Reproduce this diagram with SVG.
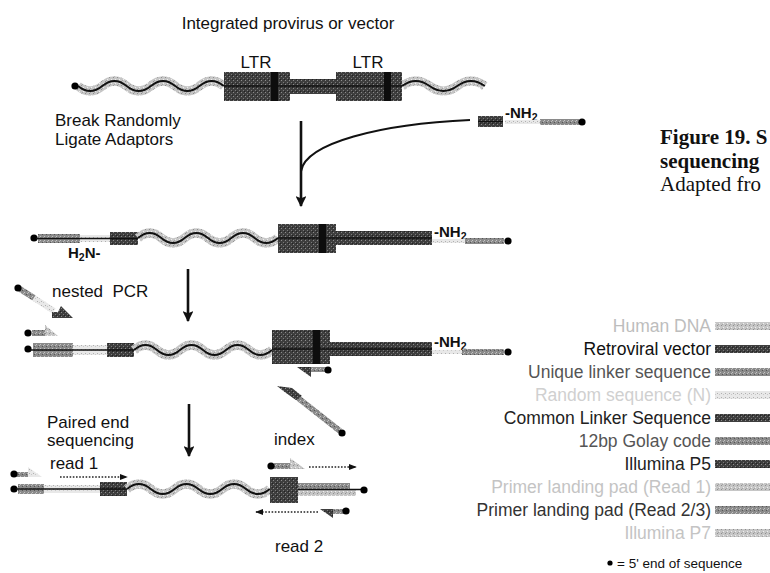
<svg xmlns="http://www.w3.org/2000/svg" width="770" height="573" viewBox="0 0 770 573">
<defs>
<pattern id="pDark" width="4" height="4" patternUnits="userSpaceOnUse"><rect width="4" height="4" fill="#3e3e3e"/><rect x="1" y="0" width="1" height="1" fill="#8c8c8c"/><rect x="3" y="2" width="1" height="1" fill="#7a7a7a"/><rect x="0" y="3" width="1" height="1" fill="#222"/></pattern>
<pattern id="pMed" width="4" height="4" patternUnits="userSpaceOnUse"><rect width="4" height="4" fill="#8a8a8a"/><rect x="0" y="0" width="1" height="1" fill="#c4c4c4"/><rect x="2" y="2" width="1" height="1" fill="#555"/><rect x="3" y="1" width="1" height="1" fill="#bbb"/></pattern>
<pattern id="pLight" width="4" height="4" patternUnits="userSpaceOnUse"><rect width="4" height="4" fill="#c6c6c6"/><rect x="1" y="1" width="1" height="1" fill="#8f8f8f"/><rect x="3" y="3" width="1" height="1" fill="#eee"/><rect x="2" y="0" width="1" height="1" fill="#a5a5a5"/></pattern>
<pattern id="pVLight" width="4" height="4" patternUnits="userSpaceOnUse"><rect width="4" height="4" fill="#e8e8e8"/><rect x="1" y="1" width="1" height="1" fill="#b0b0b0"/><rect x="3" y="2" width="1" height="1" fill="#c8c8c8"/></pattern>
<marker id="ah" viewBox="0 0 10 10" refX="9" refY="5" markerWidth="4.2" markerHeight="4.2" orient="auto"><path d="M0,0 L10,5 L0,10 L2,5 z" fill="#111"/></marker>
<marker id="ahs" viewBox="0 0 10 10" refX="9" refY="5" markerWidth="5" markerHeight="5" orient="auto"><path d="M0,1 L10,5 L0,9 z" fill="#111"/></marker>
</defs>
<style>
text{font-family:"Liberation Sans",Arial,sans-serif;fill:#111}
.lbl{font-size:17px}
.nh{font-size:15px;font-weight:bold}
.lg{font-size:17.5px;text-anchor:end}
.cap{font-family:"Liberation Serif","Times New Roman",serif;font-size:21px}
.band{fill:none;stroke:url(#pLight);stroke-width:9}
.wire{fill:none;stroke:#111;stroke-width:1.8}
.line{stroke:#111;stroke-width:1.4}
.dk{fill:url(#pDark)}
.md{fill:url(#pMed)}
.lt{fill:url(#pLight)}
.vl{fill:url(#pVLight)}
.bar{fill:#0d0d0d}
.dot{fill:#000}
.arr{stroke:#111;stroke-width:2.6;fill:none}
.dash{stroke:#222;stroke-width:1.6;stroke-dasharray:1.6 1.6;fill:none}
</style>

<g id="title">
<text class="lbl" x="288" y="29" text-anchor="middle" font-size="17.5">Integrated provirus or vector</text>
<text class="lbl" x="256" y="68" text-anchor="middle">LTR</text>
<text class="lbl" x="368" y="68" text-anchor="middle">LTR</text>
</g>

<g id="row1">
<path class="band" d="M78,86 q12.15,10 24.3,0 t24.3,0 t24.3,0 t24.3,0 t24.3,0 t24.3,0"/>
<path class="wire" d="M78,86 q12.15,10 24.3,0 t24.3,0 t24.3,0 t24.3,0 t24.3,0 t24.3,0"/>
<path class="band" d="M402,86 q13.8,-10 27.6,0 t27.6,0 t27.6,0"/>
<path class="wire" d="M402,86 q13.8,-10 27.6,0 t27.6,0 t27.6,0"/>
<rect class="dk" x="224" y="72" width="66" height="29"/>
<rect class="dk" x="290" y="79" width="46" height="15"/>
<rect class="dk" x="336" y="72" width="66" height="29"/>
<line class="line" x1="224" y1="86" x2="402" y2="86"/>
<rect class="bar" x="271" y="72" width="7" height="29"/>
<rect class="bar" x="384" y="72" width="7" height="29"/>
<circle class="dot" cx="75" cy="86" r="3.6"/>
</g>

<g id="step1">
<text class="lbl" x="55" y="126" font-size="18.5">Break Randomly</text>
<text class="lbl" x="55" y="145" font-size="18.5">Ligate Adaptors</text>
</g>

<g id="adaptor">
<rect class="dk" x="478" y="116" width="25" height="11"/>
<line class="line" x1="478" y1="121.5" x2="503" y2="121.5"/>
<text class="nh" x="505" y="118">-NH<tspan font-size="10.5" dy="3">2</tspan></text>
<rect class="vl" x="505" y="120" width="35" height="4"/>
<rect class="md" x="540" y="119" width="39" height="6"/>
<circle class="dot" cx="582" cy="122" r="3.6"/>
</g>

<g id="caption">
<text class="cap" x="660" y="144" font-weight="bold">Figure 19. S</text>
<text class="cap" x="660" y="168" font-weight="bold">sequencing</text>
<text class="cap" x="660" y="191">Adapted fro</text>
</g>

<g id="row2">
<circle class="dot" cx="34" cy="238" r="3.6"/>
<rect class="md" x="38" y="234" width="42" height="9"/>
<rect class="vl" x="80" y="235" width="30" height="7"/>
<rect class="dk" x="110" y="232" width="28" height="13"/>
<line class="line" x1="36" y1="238.5" x2="138" y2="238.5"/>
<path class="band" d="M138,238 q11.67,-10 23.33,0 t23.33,0 t23.33,0 t23.33,0 t23.33,0 t23.33,0"/>
<path class="wire" d="M138,238 q11.67,-10 23.33,0 t23.33,0 t23.33,0 t23.33,0 t23.33,0 t23.33,0"/>
<rect class="dk" x="278" y="224" width="58" height="29"/>
<rect class="dk" x="336" y="231" width="96" height="14"/>
<line class="line" x1="278" y1="238" x2="432" y2="238"/>
<rect class="bar" x="319" y="224" width="7" height="29"/>
<text class="nh" x="434" y="237">-NH<tspan font-size="10.5" dy="3">2</tspan></text>
<rect class="vl" x="432" y="239" width="33" height="4"/>
<rect class="md" x="465" y="238" width="39" height="6"/>
<circle class="dot" cx="508" cy="241" r="3.6"/>
<text class="nh" x="68" y="258">H<tspan font-size="10.5" dy="3">2</tspan><tspan dy="-3">N-</tspan></text>
</g>

<g id="step2">
<text class="lbl" x="52" y="297" style="white-space:pre">nested  PCR</text>
</g>

<g id="primer-diag">
<line x1="20" y1="289" x2="34" y2="298" stroke="url(#pMed)" stroke-width="6"/>
<line x1="34" y1="298" x2="54" y2="311" stroke="url(#pVLight)" stroke-width="6"/>
<polygon class="dk" points="52,312 58,312 61,306 73,318 52,318"/>
<circle class="dot" cx="18" cy="288" r="3.6"/>
</g>

<g id="primer-r3">
<rect class="md" x="32" y="330" width="13" height="6"/>
<polygon class="lt" points="45,325 58,336 45,336"/>
<circle class="dot" cx="28" cy="333" r="3.6"/>
</g>

<g id="row3">
<circle class="dot" cx="28" cy="349" r="3.6"/>
<rect class="md" x="33" y="343" width="40" height="14"/>
<rect class="vl" x="73" y="345" width="34" height="10"/>
<rect class="dk" x="107" y="343" width="27" height="14"/>
<line class="line" x1="30" y1="350" x2="134" y2="350"/>
<path class="band" d="M134,350 q11.5,-10 23,0 t23,0 t23,0 t23,0 t23,0 t23,0"/>
<path class="wire" d="M134,350 q11.5,-10 23,0 t23,0 t23,0 t23,0 t23,0 t23,0"/>
<rect class="dk" x="272" y="330" width="58" height="34"/>
<rect class="dk" x="330" y="342" width="102" height="14"/>
<line class="line" x1="272" y1="349" x2="432" y2="349"/>
<rect class="bar" x="313" y="330" width="7" height="34"/>
<text class="nh" x="434" y="347">-NH<tspan font-size="10.5" dy="3">2</tspan></text>
<rect class="vl" x="432" y="350" width="30" height="4"/>
<rect class="md" x="462" y="349" width="42" height="6"/>
<circle class="dot" cx="508" cy="352" r="3.6"/>
</g>

<g id="primer-idx-under">
<polygon class="dk" points="297,367 311,367 311,377"/>
<rect class="md" x="311" y="367" width="15" height="5"/>
<circle class="dot" cx="328" cy="370" r="3.6"/>
</g>

<g id="primer-idx-diag">
<line x1="293" y1="394" x2="340" y2="431" stroke="url(#pMed)" stroke-width="6"/>
<polygon class="dk" points="277,386 292,388 302,396 296,400 286,393"/>
<circle class="dot" cx="342" cy="433" r="3.6"/>
</g>

<g id="step3">
<text class="lbl" x="47" y="428">Paired end</text>
<text class="lbl" x="47" y="446">sequencing</text>
<text class="lbl" x="274" y="445">index</text>
<text class="lbl" x="50" y="469">read 1</text>
<text class="lbl" x="275" y="552">read 2</text>
</g>

<g id="primer-read1">
<rect class="md" x="17" y="472" width="11" height="5"/>
<polygon class="vl" points="28,467 42,477 28,477"/>
<circle class="dot" cx="14" cy="474" r="3.6"/>
<line class="dash" x1="60" y1="477" x2="127" y2="477" marker-end="url(#ahs)"/>
</g>

<g id="primer-index">
<rect class="md" x="274" y="463" width="16" height="6"/>
<polygon class="lt" points="290,458 305,469 290,469"/>
<circle class="dot" cx="271" cy="466" r="3.6"/>
<line class="dash" x1="309" y1="467" x2="356" y2="467" marker-end="url(#ahs)"/>
</g>

<g id="row4">
<circle class="dot" cx="14" cy="489" r="3.6"/>
<rect class="md" x="18" y="484" width="26" height="10"/>
<rect class="vl" x="44" y="485" width="56" height="8"/>
<rect class="dk" x="100" y="482" width="27" height="14"/>
<line class="line" x1="16" y1="489" x2="127" y2="489"/>
<path class="band" d="M127,489 q11.9,-10 23.8,0 t23.8,0 t23.8,0 t23.8,0 t23.8,0 t23.8,0"/>
<path class="wire" d="M127,489 q11.9,-10 23.8,0 t23.8,0 t23.8,0 t23.8,0 t23.8,0 t23.8,0"/>
<rect class="md" x="298" y="483" width="52" height="6"/>
<rect class="lt" x="298" y="490" width="58" height="6"/>
<line class="line" x1="270" y1="489.5" x2="362" y2="489.5"/>
<rect class="dk" x="270" y="477" width="28" height="26"/>
<circle class="dot" cx="364" cy="490" r="3.6"/>
</g>

<g id="primer-read2">
<line class="dash" x1="318" y1="512" x2="256" y2="512" marker-end="url(#ahs)"/>
<polygon class="dk" points="320,509 333,509 333,518"/>
<rect class="md" x="333" y="509" width="12" height="5"/>
<circle class="dot" cx="346" cy="511" r="3.6"/>
</g>

<g id="connectors">
<line class="arr" x1="301" y1="121" x2="301" y2="206" marker-end="url(#ah)"/>
<path d="M301,171 C306,143 380,124 470,120" fill="none" stroke="#111" stroke-width="2.2"/>
<line class="arr" x1="188" y1="269" x2="188" y2="321" marker-end="url(#ah)"/>
<line class="arr" x1="189" y1="404" x2="189" y2="456" marker-end="url(#ah)"/>
</g>

<g id="legend">
<text class="lg" x="711" y="332" style="fill:#bdbdbd">Human DNA</text>
<rect class="lt" x="715" y="322" width="55" height="8"/>
<text class="lg" x="711" y="355">Retroviral vector</text>
<rect class="dk" x="715" y="345" width="55" height="8"/>
<text class="lg" x="711" y="378" style="fill:#555">Unique linker sequence</text>
<rect class="md" x="715" y="368" width="55" height="8"/>
<text class="lg" x="711" y="401" style="fill:#d0d0d0">Random sequence (N)</text>
<rect class="vl" x="715" y="391" width="55" height="8"/>
<text class="lg" x="711" y="424" style="fill:#222">Common Linker Sequence</text>
<rect class="dk" x="715" y="414" width="55" height="8"/>
<text class="lg" x="711" y="447" style="fill:#555">12bp Golay code</text>
<rect class="md" x="715" y="437" width="55" height="8"/>
<text class="lg" x="711" y="470" style="fill:#222">Illumina P5</text>
<rect class="dk" x="715" y="460" width="55" height="8"/>
<text class="lg" x="711" y="493" style="fill:#c4c4c4">Primer landing pad (Read 1)</text>
<rect class="lt" x="715" y="483" width="55" height="8"/>
<text class="lg" x="711" y="516" style="fill:#333">Primer landing pad (Read 2/3)</text>
<rect class="md" x="715" y="506" width="55" height="8"/>
<text class="lg" x="711" y="539" style="fill:#c4c4c4">Illumina P7</text>
<rect class="lt" x="715" y="529" width="55" height="8"/>
<circle class="dot" cx="610" cy="563" r="2.6"/>
<text x="617" y="568" font-size="13.5">= 5' end of sequence</text>
</g>
</svg>
